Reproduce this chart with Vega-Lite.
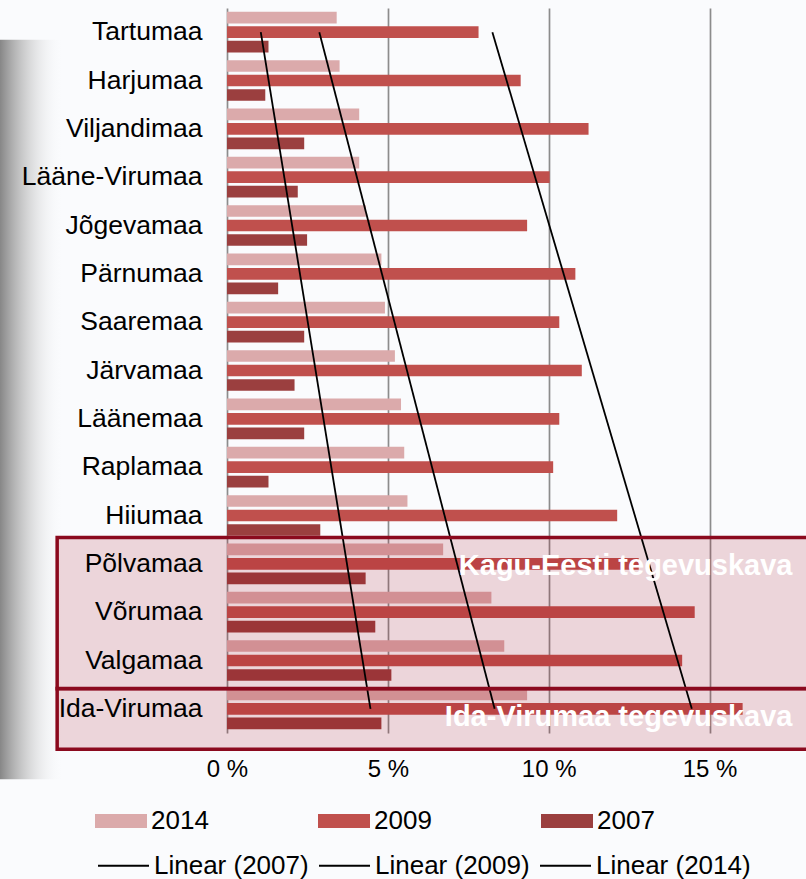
{
  "$schema": "https://vega.github.io/schema/vega-lite/v6.json",
  "width": 579,
  "height": 725,
  "autosize": {"type": "none"},
  "padding": {"left": 227, "top": 8, "right": 0, "bottom": 146},
  "background": "#FAFBFD",
  "config": {
    "view": {"stroke": null},
    "font": "Liberation Sans",
    "axisY": {"labelFontSize": 26.5, "labelColor": "#000000", "labelPadding": 25, "labelLimit": 300, "ticks": false, "domain": false, "grid": false, "labelFont": "Liberation Sans"},
    "axisX": {"grid": true, "gridColor": "#8c8c8c", "gridWidth": 1.7, "gridOpacity": 1, "domain": false, "ticks": false, "labelFontSize": 24, "labelColor": "#000000", "labelPadding": 24, "labelFont": "Liberation Sans", "labelFlush": false},
    "legend": {"labelFontSize": 26, "labelColor": "#000000", "labelFont": "Liberation Sans", "padding": 0, "labelLimit": 400, "labelOffset": 4}
  },
  "datasets": {
    "bars": [
      {"region": "Tartumaa", "year": "2014", "value": 3.41},
      {"region": "Tartumaa", "year": "2009", "value": 7.82},
      {"region": "Tartumaa", "year": "2007", "value": 1.29},
      {"region": "Harjumaa", "year": "2014", "value": 3.5},
      {"region": "Harjumaa", "year": "2009", "value": 9.13},
      {"region": "Harjumaa", "year": "2007", "value": 1.19},
      {"region": "Viljandimaa", "year": "2014", "value": 4.11},
      {"region": "Viljandimaa", "year": "2009", "value": 11.24},
      {"region": "Viljandimaa", "year": "2007", "value": 2.4},
      {"region": "Lääne-Virumaa", "year": "2014", "value": 4.11},
      {"region": "Lääne-Virumaa", "year": "2009", "value": 10.03},
      {"region": "Lääne-Virumaa", "year": "2007", "value": 2.2},
      {"region": "Jõgevamaa", "year": "2014", "value": 4.32},
      {"region": "Jõgevamaa", "year": "2009", "value": 9.33},
      {"region": "Jõgevamaa", "year": "2007", "value": 2.49},
      {"region": "Pärnumaa", "year": "2014", "value": 4.8},
      {"region": "Pärnumaa", "year": "2009", "value": 10.83},
      {"region": "Pärnumaa", "year": "2007", "value": 1.59},
      {"region": "Saaremaa", "year": "2014", "value": 4.91},
      {"region": "Saaremaa", "year": "2009", "value": 10.33},
      {"region": "Saaremaa", "year": "2007", "value": 2.4},
      {"region": "Järvamaa", "year": "2014", "value": 5.22},
      {"region": "Järvamaa", "year": "2009", "value": 11.03},
      {"region": "Järvamaa", "year": "2007", "value": 2.1},
      {"region": "Läänemaa", "year": "2014", "value": 5.41},
      {"region": "Läänemaa", "year": "2009", "value": 10.33},
      {"region": "Läänemaa", "year": "2007", "value": 2.4},
      {"region": "Raplamaa", "year": "2014", "value": 5.51},
      {"region": "Raplamaa", "year": "2009", "value": 10.14},
      {"region": "Raplamaa", "year": "2007", "value": 1.29},
      {"region": "Hiiumaa", "year": "2014", "value": 5.61},
      {"region": "Hiiumaa", "year": "2009", "value": 12.13},
      {"region": "Hiiumaa", "year": "2007", "value": 2.9},
      {"region": "Põlvamaa", "year": "2014", "value": 6.72},
      {"region": "Põlvamaa", "year": "2009", "value": 12.8},
      {"region": "Põlvamaa", "year": "2007", "value": 4.31},
      {"region": "Võrumaa", "year": "2014", "value": 8.22},
      {"region": "Võrumaa", "year": "2009", "value": 14.54},
      {"region": "Võrumaa", "year": "2007", "value": 4.61},
      {"region": "Valgamaa", "year": "2014", "value": 8.62},
      {"region": "Valgamaa", "year": "2009", "value": 14.15},
      {"region": "Valgamaa", "year": "2007", "value": 5.11},
      {"region": "Ida-Virumaa", "year": "2014", "value": 9.33},
      {"region": "Ida-Virumaa", "year": "2009", "value": 16.03},
      {"region": "Ida-Virumaa", "year": "2007", "value": 4.8}
    ],
    "trends": [
      {"trend": "Linear (2007)", "region": "Tartumaa", "value": 1.05},
      {"trend": "Linear (2007)", "region": "Ida-Virumaa", "value": 4.46},
      {"trend": "Linear (2009)", "region": "Tartumaa", "value": 8.25},
      {"trend": "Linear (2009)", "region": "Ida-Virumaa", "value": 14.45},
      {"trend": "Linear (2014)", "region": "Tartumaa", "value": 2.87},
      {"trend": "Linear (2014)", "region": "Ida-Virumaa", "value": 8.32}
    ],
    "kagu": [{"name": "Kagu-Eesti tegevuskava", "from": "Põlvamaa", "to": "Valgamaa"}],
    "ida": [{"name": "Ida-Virumaa tegevuskava", "from": "Ida-Virumaa", "to": "Ida-Virumaa"}],
    "shadow": [{"from": "Tartumaa", "to": "Ida-Virumaa"}]
  },
  "layer": [
    {
      "data": {"name": "bars"},
      "mark": {"type": "bar"},
      "encoding": {
        "y": {"field": "region", "type": "nominal", "title": null, "axis": {"zindex": 1}, "scale": {"domain": ["Tartumaa", "Harjumaa", "Viljandimaa", "Lääne-Virumaa", "Jõgevamaa", "Pärnumaa", "Saaremaa", "Järvamaa", "Läänemaa", "Raplamaa", "Hiiumaa", "Põlvamaa", "Võrumaa", "Valgamaa", "Ida-Virumaa"], "paddingInner": 0.16, "paddingOuter": 0.08}},
        "yOffset": {"field": "year", "type": "nominal", "scale": {"domain": ["2014", "2009", "2007"], "paddingInner": 0.2, "paddingOuter": 0}},
        "x": {"field": "value", "type": "quantitative", "title": null, "scale": {"domain": [0, 18], "nice": false},
          "axis": {"values": [0, 5, 10, 15], "labelExpr": "datum.value + ' %'"}},
        "color": {"field": "year", "type": "nominal", "scale": {"domain": ["2014", "2009", "2007"], "range": ["#DBAAAB", "#C0504D", "#9B3F3F"]},
          "legend": {"title": null, "orient": "none", "legendX": -132, "legendY": 787, "direction": "horizontal", "columns": 3, "columnPadding": 109, "symbolType": "M-1,-0.27H1V0.27H-1Z", "symbolSize": 2704, "symbolStrokeWidth": 0, "symbolOpacity": 1}}
      }
    },
    {
      "data": {"name": "shadow"},
      "mark": {"type": "rect", "yOffset": 28, "y2Offset": 50, "fill": {"gradient": "linear", "x1": 0, "y1": 0, "x2": 1, "y2": 0, "stops": [{"offset": 0, "color": "rgba(128,128,128,0.95)"}, {"offset": 0.45, "color": "rgba(190,190,190,0.6)"}, {"offset": 1, "color": "rgba(250,251,253,0)"}]}},
      "encoding": {
        "x": {"datum": -7.06, "type": "quantitative", "title": null},
        "x2": {"datum": -5.1},
        "y": {"field": "from", "type": "nominal", "bandPosition": 0, "title": null},
        "y2": {"field": "to", "bandPosition": 1}
      }
    },
    {
      "data": {"name": "kagu"},
      "mark": {"type": "rect", "fill": "#A00014", "fillOpacity": 0.15, "yOffset": -6, "y2Offset": 8},
      "encoding": {
        "x": {"datum": -5.28, "type": "quantitative", "title": null},
        "x2": {"datum": 18.2},
        "y": {"field": "from", "type": "nominal", "bandPosition": 0, "title": null},
        "y2": {"field": "to", "bandPosition": 1}
      }
    },
    {
      "data": {"name": "ida"},
      "mark": {"type": "rect", "fill": "#A00014", "fillOpacity": 0.15, "yOffset": 0, "y2Offset": 20},
      "encoding": {
        "x": {"datum": -5.28, "type": "quantitative", "title": null},
        "x2": {"datum": 18.2},
        "y": {"field": "from", "type": "nominal", "bandPosition": 0, "title": null},
        "y2": {"field": "to", "bandPosition": 1}
      }
    },
    {
      "data": {"name": "trends"},
      "mark": {"type": "line", "strokeWidth": 1.8},
      "encoding": {
        "x": {"field": "value", "type": "quantitative", "title": null},
        "y": {"field": "region", "type": "nominal", "title": null},
        "stroke": {"field": "trend", "type": "nominal", "scale": {"domain": ["Linear (2007)", "Linear (2009)", "Linear (2014)"], "range": ["#000000", "#000000", "#000000"]},
          "legend": {"title": null, "orient": "none", "legendX": -130, "legendY": 831, "direction": "horizontal", "columns": 3, "columnPadding": 6, "symbolType": "stroke", "symbolSize": 2601, "symbolStrokeWidth": 1.8}}
      }
    },
    {
      "data": {"name": "kagu"},
      "mark": {"type": "text", "align": "right", "baseline": "middle", "fontWeight": "bold", "fontSize": 29, "color": "#FFFFFF", "font": "Liberation Sans", "dy": 2},
      "encoding": {
        "x": {"datum": 17.58, "type": "quantitative", "title": null},
        "y": {"field": "from", "type": "nominal", "title": null},
        "text": {"field": "name"}
      }
    },
    {
      "data": {"name": "ida"},
      "mark": {"type": "text", "align": "right", "baseline": "middle", "fontWeight": "bold", "fontSize": 29, "color": "#FFFFFF", "font": "Liberation Sans", "dy": 8},
      "encoding": {
        "x": {"datum": 17.58, "type": "quantitative", "title": null},
        "y": {"field": "from", "type": "nominal", "title": null},
        "text": {"field": "name"}
      }
    },
    {
      "data": {"name": "kagu"},
      "mark": {"type": "rect", "fill": null, "stroke": "#8B0A1E", "strokeWidth": 3.5, "yOffset": -6, "y2Offset": 8},
      "encoding": {
        "x": {"datum": -5.28, "type": "quantitative", "title": null},
        "x2": {"datum": 18.2},
        "y": {"field": "from", "type": "nominal", "bandPosition": 0, "title": null},
        "y2": {"field": "to", "bandPosition": 1}
      }
    },
    {
      "data": {"name": "ida"},
      "mark": {"type": "rect", "fill": null, "stroke": "#8B0A1E", "strokeWidth": 3.5, "yOffset": 0, "y2Offset": 20},
      "encoding": {
        "x": {"datum": -5.28, "type": "quantitative", "title": null},
        "x2": {"datum": 18.2},
        "y": {"field": "from", "type": "nominal", "bandPosition": 0, "title": null},
        "y2": {"field": "to", "bandPosition": 1}
      }
    }
  ]
}
